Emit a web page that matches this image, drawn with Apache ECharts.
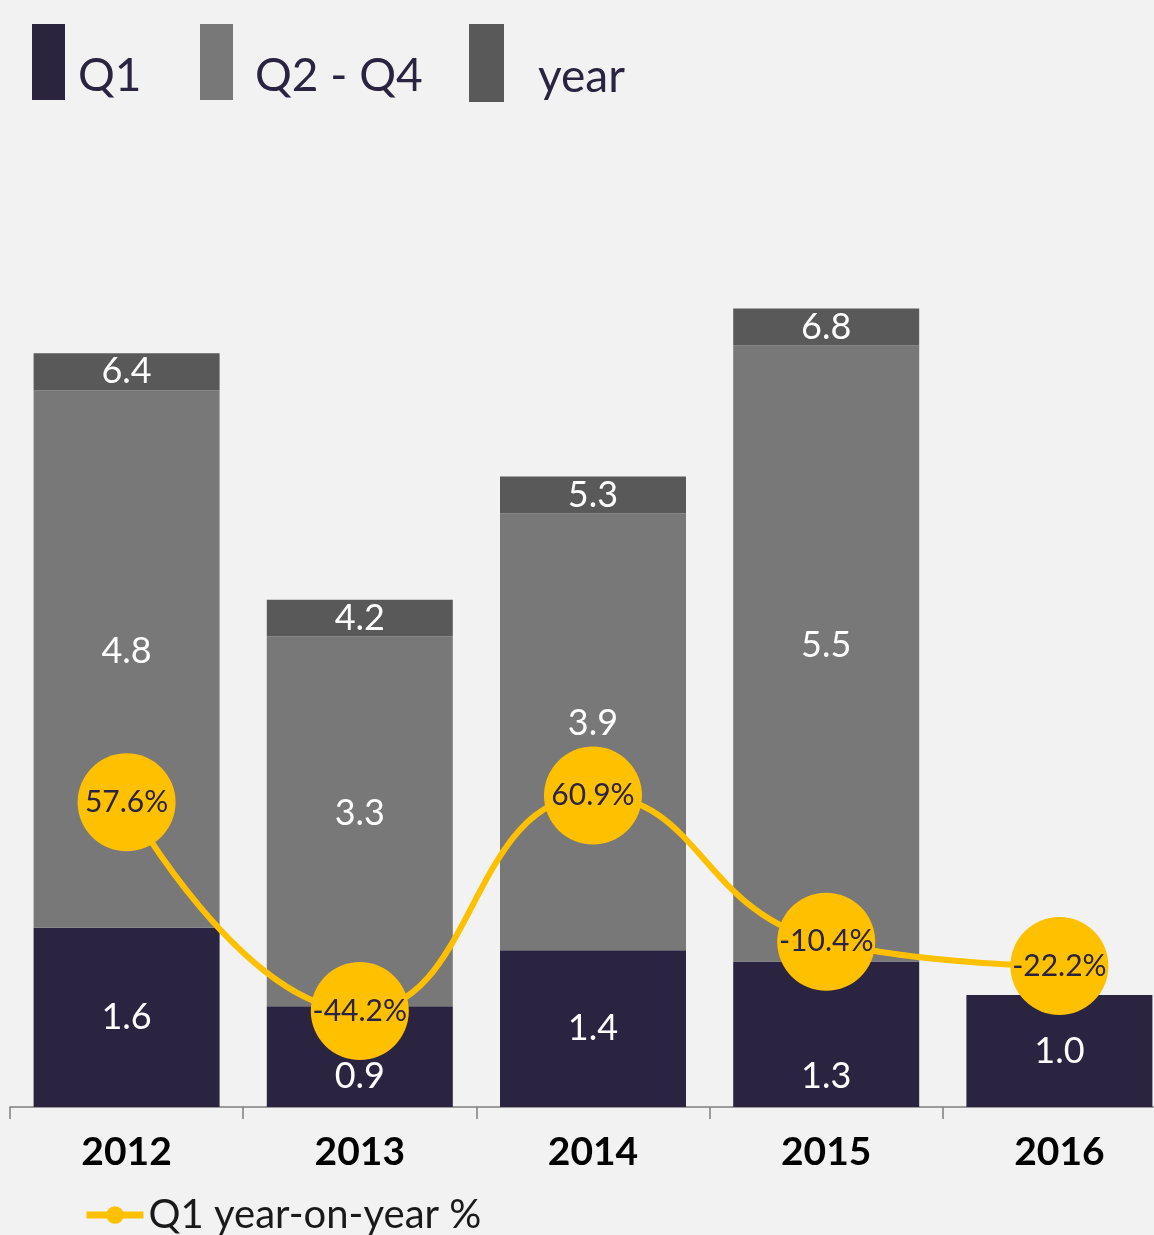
<!DOCTYPE html>
<html>
<head>
<meta charset="utf-8">
<script src="https://cdn.jsdelivr.net/npm/echarts@6/dist/echarts.min.js"></script>
<style>
  html, body { margin: 0; padding: 0; background: #f2f2f2; }
  #chart { width: 1154px; height: 1235px; }
</style>
</head>
<body>
<div id="chart"></div>
<script>
// data
const years = ['2012', '2013', '2014', '2015', '2016']
const q1 = [1.6, 0.9, 1.4, 1.3, 1.0]
const q2q4 = [4.8, 3.3, 3.9, 5.5, null]
const yearTotal = [6.4, 4.2, 5.3, 6.8, null]
const q1Yoy = [57.6, -44.2, 60.9, -10.4, -22.2]

// 年度合计显示成柱子顶上的一条固定高度色带
const CAP = 0.33

const font = 'Lato'
const navy = '#2b2441'

const chart = echarts.init(document.getElementById('chart'))

// Q1 标签有两根被圆点挡住，往下挪
const q1Shift = [0, 20, 0, 42, 0]

// 顶部图例：文字比色块中心低一些，用 rich 的上边距压下去
function topLegend (name, left, gap) {
  return {
    left: left,
    top: 24,
    padding: 0,
    icon: 'rect',
    itemWidth: 33,
    itemHeight: 76,
    selectedMode: false,
    data: [name],
    formatter: n => '{t|' + n + '}',
    textStyle: {
      rich: {
        t: { fontFamily: font, fontSize: 46, color: navy, padding: [28, 0, 0, gap] }
      }
    }
  }
}

const option = {
  backgroundColor: '#f2f2f2',
  animation: false,
  legend: [
    topLegend('Q1', 32, 8),
    topLegend('Q2 - Q4', 200, 17),
    topLegend('year', 469, 30),
    {
      left: 83,
      top: 1195,
      padding: 0,
      itemWidth: 57,
      itemHeight: 22,
      selectedMode: false,
      lineStyle: { width: 7 },
      data: ['Q1 year-on-year %'],
      textStyle: { fontFamily: font, fontSize: 40, color: '#1a1a1a' }
    }
  ],
  grid: { left: 10, right: -22, top: 211, bottom: 128, outerBoundsMode: 'none' },
  xAxis: {
    type: 'category',
    data: years,
    axisLine: { lineStyle: { color: '#7f7f7f', width: 1.5 } },
    axisTick: { show: true, length: 12, lineStyle: { color: '#7f7f7f', width: 1.5 } },
    axisLabel: {
      fontFamily: font, fontSize: 39, fontWeight: 'bold', color: '#000', margin: 26
    }
  },
  yAxis: [
    { type: 'value', min: 0, max: 8, show: false },
    { type: 'value', min: -91, max: 346, show: false }
  ],
  series: [
    {
      name: 'Q1',
      type: 'bar',
      stack: 'total',
      barWidth: 186,
      itemStyle: { color: navy },
      data: q1.map((v, i) => ({ value: v, label: { offset: [0, q1Shift[i]] } })),
      label: {
        show: true, position: 'inside', color: '#fff', fontFamily: font, fontSize: 36,
        formatter: p => p.value.toFixed(1)
      }
    },
    {
      name: 'Q2 - Q4',
      type: 'bar',
      stack: 'total',
      barWidth: 186,
      itemStyle: { color: '#787878' },
      data: q2q4,
      label: {
        show: true, position: 'inside', color: '#fff', fontFamily: font, fontSize: 36,
        offset: [0, -8],
        formatter: p => p.value.toFixed(1)
      }
    },
    {
      name: 'year',
      type: 'bar',
      stack: 'total',
      barWidth: 186,
      itemStyle: { color: '#595959', borderColor: '#595959', borderWidth: 6 },
      data: yearTotal.map(v => (v == null ? null : CAP)),
      label: {
        show: true, position: 'inside', color: '#fff', fontFamily: font, fontSize: 36,
        formatter: p => yearTotal[p.dataIndex].toFixed(1)
      }
    },
    {
      name: 'Q1 year-on-year %',
      type: 'line',
      yAxisIndex: 1,
      smooth: true,
      symbol: 'circle',
      symbolSize: 98,
      lineStyle: { color: '#ffc000', width: 6 },
      itemStyle: { color: '#ffc000' },
      data: q1Yoy,
      label: {
        show: true, position: 'inside', color: navy, fontFamily: font, fontSize: 30,
        formatter: p => p.value.toFixed(1) + '%'
      },
      z: 5
    }
  ]
}

chart.setOption(option)
</script>
</body>
</html>
